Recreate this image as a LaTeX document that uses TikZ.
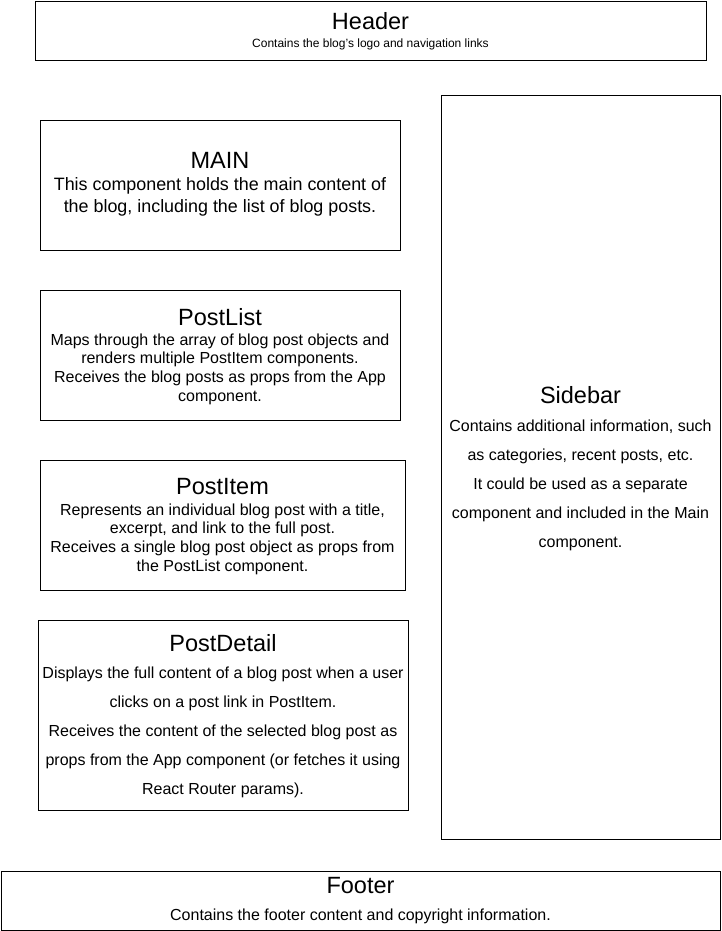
\documentclass[tikz,border=0pt]{standalone}
\usepackage{fontspec}
\setmainfont{Liberation Sans}
\begin{document}
\begin{tikzpicture}[x=1pt,y=-1pt,
  box/.style={draw=black,line width=0.8pt,fill=white},
  ttl/.style={font=\fontsize{23.5}{27}\selectfont,inner sep=0pt},
  body/.style={align=center,inner sep=0pt}]
\useasboundingbox (0,0) rectangle (721,931);
% boxes
\draw[box] (35,1) rectangle (706,60);
\draw[box] (40,120) rectangle (400,250);
\draw[box] (40,290) rectangle (400,420);
\draw[box] (40,460) rectangle (405,590);
\draw[box] (38,620) rectangle (408,810);
\draw[box] (441,95) rectangle (720,839);
\draw[box] (1,871) rectangle (720,930);
% Header
\node[ttl] (ht) at (370.5,21) {Header};
\node[body,font=\fontsize{12}{14}\selectfont] (hb) at (370.5,44) {Contains the blog's logo and navigation links};
% MAIN
\node[ttl] (mt) at (220,160) {MAIN};
\node[body,font=\fontsize{17.9}{22}\selectfont] (mb) at (220,197) {This component holds the main content of\\the blog, including the list of blog posts.};
% PostList
\node[ttl] (lt) at (220,317) {PostList};
\node[body,font=\fontsize{16}{18.7}\selectfont] (lb) at (220,369) {Maps through the array of blog post objects and\\renders multiple PostItem components.\\Receives the blog posts as props from the App\\component.};
% PostItem
\node[ttl] (it) at (222.5,487) {PostItem};
\node[body,font=\fontsize{16}{18.7}\selectfont] (ib) at (222.5,539) {Represents an individual blog post with a title,\\excerpt, and link to the full post.\\Receives a single blog post object as props from\\the PostList component.};
% PostDetail
\node[ttl] (dt) at (223,643) {PostDetail};
\node[body,font=\fontsize{16}{29}\selectfont] (db) at (223,732.5) {Displays the full content of a blog post when a user\\clicks on a post link in PostItem.\\Receives the content of the selected blog post as\\props from the App component (or fetches it using\\React Router params).};
% Sidebar
\node[ttl] (st) at (580.5,395) {Sidebar};
\node[body,font=\fontsize{16}{29}\selectfont] (sb) at (580.5,485) {Contains additional information, such\\as categories, recent posts, etc.\\It could be used as a separate\\component and included in the Main\\component.};
% Footer
\node[ttl] (ft) at (360.5,886) {Footer};
\node[body,font=\fontsize{16}{19}\selectfont] (fb) at (360.5,916) {Contains the footer content and copyright information.};
\end{tikzpicture}
\end{document}
